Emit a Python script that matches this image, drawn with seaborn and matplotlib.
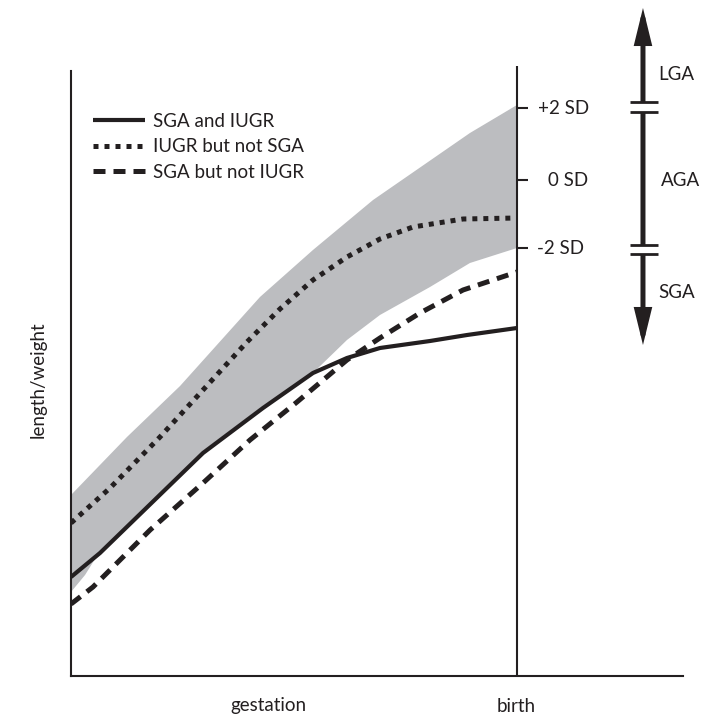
import matplotlib
matplotlib.use("Agg")
import matplotlib.pyplot as plt
import matplotlib.transforms as mtransforms
import seaborn as sns
from matplotlib.patches import FancyArrowPatch, Rectangle

# ---- data (gestation in weeks, size in arbitrary units) ----
sga_iugr_x = [0, 2.6, 11.84, 17.22, 21.7, 24.75, 27.71, 32.2, 35.52, 40]
sga_iugr_y = [9.9, 12.3, 22.3, 26.8, 30.3, 31.8, 32.8, 33.5, 34.1, 34.8]

iugr_x = [0, 3.5, 7.98, 12.74, 15.78, 18.74, 21.7, 24.75, 27.71, 30.67, 35.16, 40]
iugr_y = [15.3, 18.8, 23.9, 29.7, 33.4, 36.7, 39.6, 41.9, 43.7, 44.9, 45.7, 45.8]

sga_x = [0, 1.97, 7.09, 11.84, 16.05, 20.27, 24.75, 27.71, 31.3, 35.16, 40]
sga_y = [7.2, 8.9, 14.6, 19.3, 23.6, 27.4, 31.6, 33.8, 36.3, 38.6, 40.4]

band_upper_x = [0, 5.02, 9.78, 16.95, 21.7, 27.09, 35.78, 40]
band_upper_y = [18.1, 23.9, 29.0, 37.9, 42.6, 47.6, 54.3, 57.1]
band_lower_x = [0, 1.26, 2.6, 7.09, 11.84, 17.22, 21.7, 24.75, 27.71, 32.2, 35.78, 40]
band_lower_y = [8.4, 10.1, 12.5, 17.3, 22.5, 27.0, 30.3, 33.6, 36.1, 38.9, 41.3, 42.8]

series_labels = ["SGA and IUGR", "IUGR but not SGA", "SGA but not IUGR"]
sd_labels = ["+2 SD", "0 SD", "-2 SD"]
sd_values = [56.8, 49.6, 42.8]
class_labels = ["LGA", "AGA", "SGA"]

birth_week = 40

# ---- style ----
sns.set_theme(style="white")
plt.rcParams["font.family"] = ["Lato", "DejaVu Sans"]
INK = "#231f20"
GRAY = "#bcbdc0"
FS = 13.5

W, H = 704, 719
fig = plt.figure(figsize=(W / 100, H / 100), dpi=100)
ax = fig.add_axes([71 / W, 43 / H, 612 / W, 610 / H])
ax.set_xlim(0, 54.89)
ax.set_ylim(0, 61.0)

def fx(px):
    return px / W

def fy(py):
    return 1 - py / H

def dx(px):
    return (px - 71) / 446 * birth_week

# band
ax.fill(band_upper_x + band_lower_x[::-1], band_upper_y + band_lower_y[::-1],
        color=GRAY, lw=0, zorder=1)

# lines
sns.lineplot(x=sga_iugr_x, y=sga_iugr_y, ax=ax, color=INK, lw=3.0,
             label=series_labels[0], zorder=4)
sns.lineplot(x=iugr_x, y=iugr_y, ax=ax, color=INK, lw=3.6,
             linestyle=(0, (1, 1.2)), label=series_labels[1], zorder=3)
sns.lineplot(x=sga_x, y=sga_y, ax=ax, color=INK, lw=3.6,
             linestyle=(0, (2.4, 1.6)), label=series_labels[2], zorder=3)
for ln in ax.get_lines():
    ln.set_solid_capstyle("butt")
    ln.set_dash_capstyle("butt")
    ln.set_solid_joinstyle("round")
    ln.set_dash_joinstyle("round")

# spines
for s in ["top", "right"]:
    ax.spines[s].set_visible(False)
for s in ["left", "bottom"]:
    ax.spines[s].set_color(INK)
    ax.spines[s].set_linewidth(1.5)
ax.spines["left"].set_bounds(0, 60.5)
ax.set_xticks([])
ax.set_yticks([])

# birth line with SD ticks
ax.axvline(birth_week, color=INK, lw=1.5, zorder=5)
ax.hlines(sd_values, birth_week, birth_week + 1.0, color=INK, lw=1.5, zorder=5)
blend = mtransforms.blended_transform_factory(fig.transFigure, ax.transData)
for lab, v, px in zip(sd_labels, sd_values, [538, 548, 537]):
    ax.text(fx(px), v, lab, transform=blend, fontsize=FS, color=INK,
            ha="left", va="center")

# classification arrow
arrow_x = dx(643)
arr = FancyArrowPatch((arrow_x, 33.1), (arrow_x, 66.8),
                      arrowstyle="<|-|>,head_length=18,head_width=4.4",
                      mutation_scale=1, lw=3.6, color=INK,
                      shrinkA=0, shrinkB=0, clip_on=False, zorder=6,
                      joinstyle="miter")
ax.add_patch(arr)
bx0, bx1 = dx(630), dx(658)
for ytop, ybot in [(57.4, 56.4), (43.1, 42.2)]:
    ax.add_patch(Rectangle((arrow_x - 0.6, ybot), 1.2, ytop - ybot, color="white",
                           lw=0, clip_on=False, zorder=7))
    ax.plot([bx0, bx1], [ytop, ytop], color=INK, lw=2.0, clip_on=False, zorder=8,
            solid_capstyle="butt")
    ax.plot([bx0, bx1], [ybot, ybot], color=INK, lw=2.0, clip_on=False, zorder=8,
            solid_capstyle="butt")

for lab, px, py in zip(class_labels, [658, 661, 658], [75, 180, 292]):
    fig.text(fx(px), fy(py), lab, fontsize=FS, color=INK, ha="left", va="center")

# axis labels
fig.text(fx(38), fy(380), "length/weight", rotation=90, fontsize=FS, color=INK,
         ha="center", va="center")
fig.text(fx(268), fy(706), "gestation", fontsize=FS, color=INK, ha="center", va="center")
fig.text(fx(516), fy(707), "birth", fontsize=FS, color=INK, ha="center", va="center")

# legend
leg = ax.legend(loc="upper left", bbox_to_anchor=(fx(93), fy(113)),
                bbox_transform=fig.transFigure, frameon=False, fontsize=FS,
                handlelength=2.75, handletextpad=0.45, labelspacing=0.45,
                borderpad=0, borderaxespad=0)
for t in leg.get_texts():
    t.set_color(INK)

fig.savefig("out.png", dpi=100)
